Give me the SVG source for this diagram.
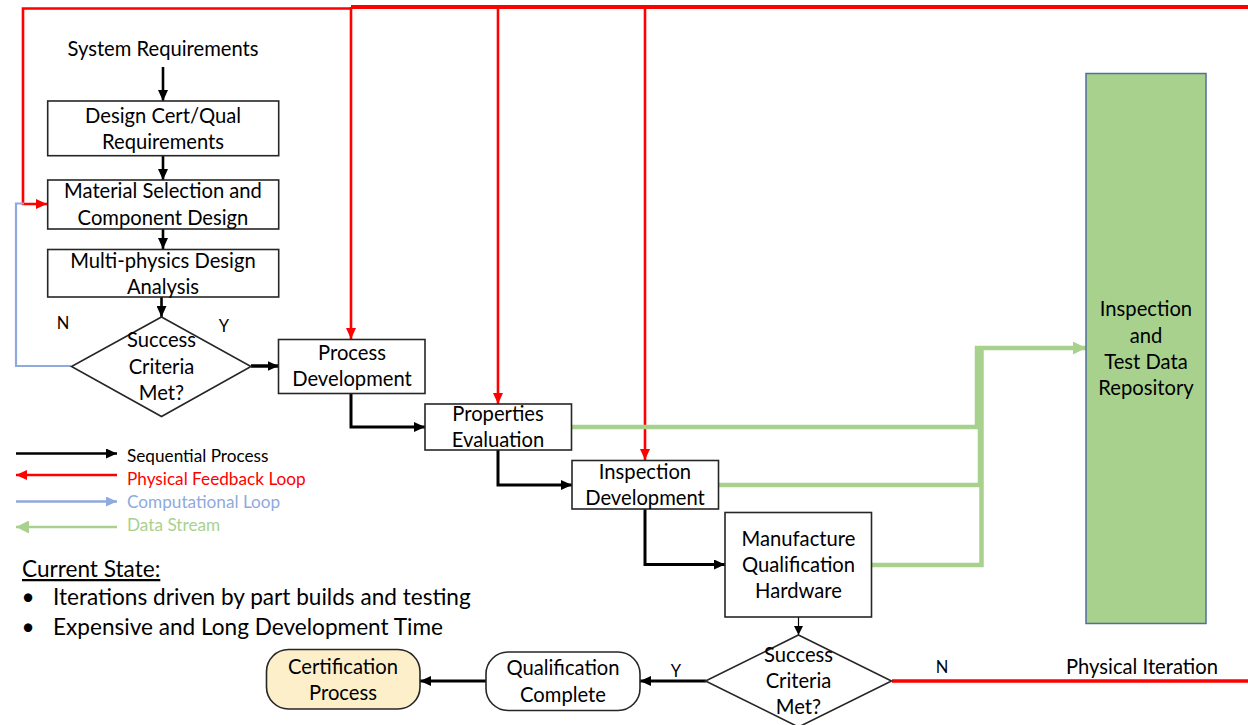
<svg xmlns="http://www.w3.org/2000/svg" width="1248" height="725" viewBox="0 0 1248 725">
  <style>
    text { font-family: Lato, "Open Sans", "Liberation Sans", sans-serif; fill: #000; }
    .lbl { font-size: 20.2px; text-anchor: middle; }
    .small { font-size: 16.5px; text-anchor: middle; }
    .legend { font-size: 17.2px; }
    .note { font-size: 22.6px; }
    .box { fill: #fff; stroke: #262626; stroke-width: 1.6; }
    .seq { fill: none; stroke: #000; stroke-width: 3; }
    .seq-thin { fill: none; stroke: #000; stroke-width: 1.2; }
    .phys { fill: none; stroke: #ff0000; stroke-width: 2.6; }
    .phys-bus { fill: none; stroke: #ff0000; stroke-width: 4; }
    .comp { fill: none; stroke: #8faadc; stroke-width: 2.2; }
    .data { fill: none; stroke: #a9d18e; stroke-width: 4.5; }
  </style>
  <defs>
    <marker id="arrBlack" markerUnits="userSpaceOnUse" markerWidth="11" markerHeight="10" refX="11" refY="5" orient="auto">
      <path d="M0,0 L11,5 L0,10 z" fill="#000"/>
    </marker>
    <marker id="arrBlackSmall" markerUnits="userSpaceOnUse" markerWidth="9" markerHeight="9" refX="9" refY="4.5" orient="auto">
      <path d="M0,0 L9,4.5 L0,9 z" fill="#000"/>
    </marker>
    <marker id="arrRed" markerUnits="userSpaceOnUse" markerWidth="11" markerHeight="10" refX="11" refY="5" orient="auto">
      <path d="M0,0 L11,5 L0,10 z" fill="#ff0000"/>
    </marker>
    <marker id="arrBlue" markerUnits="userSpaceOnUse" markerWidth="11" markerHeight="10" refX="11" refY="5" orient="auto">
      <path d="M0,0 L11,5 L0,10 z" fill="#8faadc"/>
    </marker>
    <marker id="arrGreen" markerUnits="userSpaceOnUse" markerWidth="13" markerHeight="13" refX="13" refY="6.5" orient="auto">
      <path d="M0,0 L13,6.5 L0,13 z" fill="#a9d18e"/>
    </marker>
  </defs>

  <!-- connectors -->
  <g id="connectors">
    <!-- physical feedback loop -->
    <path class="phys-bus" d="M1248,7 H351"/>
    <path class="phys" d="M352,8.5 H23 V204 H47" marker-end="url(#arrRed)"/>
    <path class="phys" d="M351,7 V339" marker-end="url(#arrRed)"/>
    <path class="phys" d="M498,7 V404" marker-end="url(#arrRed)"/>
    <path class="phys" d="M645,7 V460" marker-end="url(#arrRed)"/>
    <path class="phys" d="M892,681 H1248" style="stroke-width:3.5"/>
    <!-- computational loop -->
    <path class="comp" d="M71,366 H16 V203.5 H24"/>
    <!-- sequential flow -->
    <path class="seq" d="M163,67 V101" style="stroke-width:2.6" marker-end="url(#arrBlack)"/>
    <path class="seq" d="M163,156 V180" style="stroke-width:2.6" marker-end="url(#arrBlack)"/>
    <path class="seq" d="M163,229 V249" style="stroke-width:2.6" marker-end="url(#arrBlack)"/>
    <path class="seq" d="M161.5,297 V317" style="stroke-width:2.6" marker-end="url(#arrBlack)"/>
    <path class="seq" d="M251,366 H278.5" style="stroke-width:3.5" marker-end="url(#arrBlack)"/>
    <path class="seq" d="M351,394 V427 H425" marker-end="url(#arrBlack)"/>
    <path class="seq" d="M498,450 V485 H572" marker-end="url(#arrBlack)"/>
    <path class="seq" d="M645,509 V564.5 H725" marker-end="url(#arrBlack)"/>
    <path class="seq-thin" d="M798.5,617 V635" marker-end="url(#arrBlackSmall)"/>
    <path class="seq" d="M706,681 H640" marker-end="url(#arrBlack)"/>
    <path class="seq" d="M486,681 H420" marker-end="url(#arrBlack)"/>
    <!-- data stream -->
    <path class="data" d="M572,427 H977 V348 H1086" marker-end="url(#arrGreen)"/>
    <path class="data" d="M718,485 H980 V348"/>
    <path class="data" d="M872,565 H981.5 V348"/>
  </g>

  <!-- nodes -->
  <g id="system-requirements">
    <text class="lbl" x="163" y="56">System Requirements</text>
  </g>
  <g id="design-requirements">
    <rect class="box" x="47.7" y="101" width="231" height="54.7"/>
    <text class="lbl" x="163" y="122.5">Design Cert/Qual</text>
    <text class="lbl" x="163" y="148.5">Requirements</text>
  </g>
  <g id="material-selection">
    <rect class="box" x="47.7" y="180" width="231" height="49"/>
    <text class="lbl" x="163" y="198">Material Selection and</text>
    <text class="lbl" x="163" y="224.5">Component Design</text>
  </g>
  <g id="multiphysics-analysis">
    <rect class="box" x="47.7" y="249.5" width="231" height="47.5"/>
    <text class="lbl" x="163" y="267.5">Multi-physics Design</text>
    <text class="lbl" x="163" y="294">Analysis</text>
  </g>
  <g id="decision-computational">
    <path class="box" d="M161.5,317 L251,366.5 L161.5,416.5 L71.5,366.5 z"/>
    <text class="lbl" x="161.5" y="347">Success</text>
    <text class="lbl" x="161.5" y="373.5">Criteria</text>
    <text class="lbl" x="161.5" y="399.5">Met?</text>
    <text class="small" x="63" y="328.5">N</text>
    <text class="small" x="224" y="331.5">Y</text>
  </g>
  <g id="process-development">
    <rect class="box" x="278.5" y="339.5" width="146.5" height="54"/>
    <text class="lbl" x="352" y="360">Process</text>
    <text class="lbl" x="352" y="386">Development</text>
  </g>
  <g id="properties-evaluation">
    <rect class="box" x="425" y="404" width="146.5" height="46"/>
    <text class="lbl" x="498" y="420.5">Properties</text>
    <text class="lbl" x="498" y="446.5">Evaluation</text>
  </g>
  <g id="inspection-development">
    <rect class="box" x="572" y="460.5" width="146.5" height="48.5"/>
    <text class="lbl" x="645" y="478.5">Inspection</text>
    <text class="lbl" x="645" y="504.5">Development</text>
  </g>
  <g id="manufacture-hardware">
    <rect class="box" x="725" y="512.5" width="146.5" height="104.5"/>
    <text class="lbl" x="798.5" y="545.5">Manufacture</text>
    <text class="lbl" x="798.5" y="571.5">Qualification</text>
    <text class="lbl" x="798.5" y="597.5">Hardware</text>
  </g>
  <g id="decision-physical">
    <path class="box" d="M798.5,635 L891.5,681 L798.5,727 L705.5,681 z"/>
    <text class="lbl" x="798.5" y="661.5">Success</text>
    <text class="lbl" x="798.5" y="687.5">Criteria</text>
    <text class="lbl" x="798.5" y="713.5">Met?</text>
    <text class="small" x="676" y="676.5">Y</text>
    <text class="small" x="942" y="672.5">N</text>
    <text class="lbl" x="1142" y="673.5">Physical Iteration</text>
  </g>
  <g id="qualification-complete">
    <rect class="box" x="486" y="652" width="154" height="58.5" rx="22" ry="22"/>
    <text class="lbl" x="563" y="675">Qualification</text>
    <text class="lbl" x="563" y="701.5">Complete</text>
  </g>
  <g id="certification-process">
    <rect class="box" x="266.5" y="649.5" width="153.5" height="59.5" rx="22" ry="22" style="fill:#fcefc9"/>
    <text class="lbl" x="343" y="673.5">Certification</text>
    <text class="lbl" x="343" y="699.5">Process</text>
  </g>
  <g id="data-repository">
    <rect x="1086" y="73.5" width="120" height="550" fill="#a9d18e" stroke="#4f6fa3" stroke-width="1.5"/>
    <text class="lbl" x="1146" y="316">Inspection</text>
    <text class="lbl" x="1146" y="342.5">and</text>
    <text class="lbl" x="1146" y="368.5">Test Data</text>
    <text class="lbl" x="1146" y="395">Repository</text>
  </g>

  <!-- legend -->
  <g id="legend">
    <path d="M16,453.5 H117" fill="none" stroke="#000" stroke-width="2.6" marker-end="url(#arrBlack)"/>
    <path d="M117,475 H16" fill="none" stroke="#ff0000" stroke-width="2.6" marker-end="url(#arrRed)"/>
    <path d="M16,501.5 H117" fill="none" stroke="#8faadc" stroke-width="2.6" marker-end="url(#arrBlue)"/>
    <path d="M117,527 H16" fill="none" stroke="#a9d18e" stroke-width="2.6" marker-end="url(#arrGreen)"/>
    <text class="legend" x="127" y="461.5">Sequential Process</text>
    <text class="legend" x="127" y="485" style="fill:#ff0000">Physical Feedback Loop</text>
    <text class="legend" x="127" y="508" style="fill:#8faadc">Computational Loop</text>
    <text class="legend" x="127" y="531" style="fill:#a9d18e">Data Stream</text>
  </g>

  <!-- current state notes -->
  <g id="current-state">
    <text class="note" x="22" y="577" text-decoration="underline">Current State:</text>
    <text class="note" x="28" y="605" text-anchor="middle">•</text>
    <text class="note" x="53" y="605">Iterations driven by part builds and testing</text>
    <text class="note" x="28" y="635" text-anchor="middle">•</text>
    <text class="note" x="53" y="635">Expensive and Long Development Time</text>
  </g>
</svg>
